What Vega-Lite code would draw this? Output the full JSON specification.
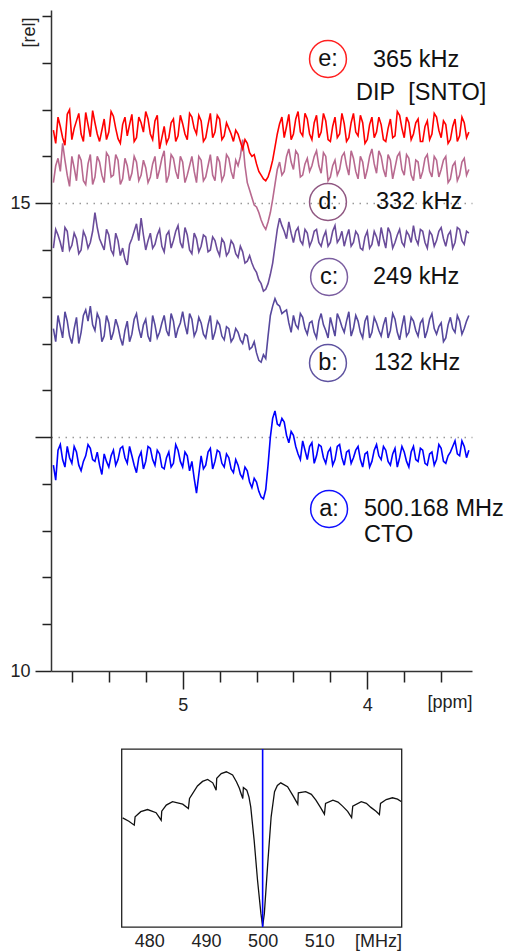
{
  "$schema": "https://vega.github.io/schema/vega-lite/v6.json",
  "padding": {"left": 9, "top": 10, "right": 0, "bottom": 0},
  "spacing": 78,
  "bounds": "flush",
  "center": true,
  "config": {
    "font": "Liberation Sans",
    "view": {"stroke": null},
    "axis": {"labelFont": "Liberation Sans", "titleFont": "Liberation Sans"}
  },
  "vconcat": [
    {
      "width": 421,
      "height": 661,
      "layer": [
        {
          "data": {"values": [
            {"x":5.7,"a":12.20,"b":13.66,"c":14.52,"d":15.22,"e":15.78},
            {"x":5.6875,"a":12.04,"b":13.52,"c":14.72,"d":15.40,"e":15.64},
            {"x":5.675,"a":12.36,"b":13.80,"c":14.66,"d":15.48,"e":15.92},
            {"x":5.6625,"a":12.42,"b":13.68,"c":14.58,"d":15.34,"e":15.82},
            {"x":5.65,"a":12.26,"b":13.56,"c":14.48,"d":15.64,"e":15.70},
            {"x":5.6375,"a":12.18,"b":13.84,"c":14.74,"d":15.46,"e":15.62},
            {"x":5.625,"a":12.40,"b":13.74,"c":14.70,"d":15.30,"e":15.95},
            {"x":5.6125,"a":12.28,"b":13.58,"c":14.50,"d":15.18,"e":16.00},
            {"x":5.6,"a":12.22,"b":13.50,"c":14.55,"d":15.50,"e":15.68},
            {"x":5.5875,"a":12.40,"b":13.66,"c":14.68,"d":15.38,"e":15.80},
            {"x":5.575,"a":12.34,"b":13.78,"c":14.62,"d":15.24,"e":15.88},
            {"x":5.5625,"a":12.20,"b":13.50,"c":14.46,"d":15.52,"e":15.96},
            {"x":5.55,"a":12.14,"b":13.62,"c":14.50,"d":15.46,"e":15.74},
            {"x":5.5375,"a":12.24,"b":13.80,"c":14.70,"d":15.24,"e":15.66},
            {"x":5.525,"a":12.30,"b":13.86,"c":14.64,"d":15.20,"e":15.97},
            {"x":5.5125,"a":12.42,"b":13.74,"c":14.52,"d":15.42,"e":15.84},
            {"x":5.5,"a":12.38,"b":13.90,"c":14.58,"d":15.52,"e":15.71},
            {"x":5.4875,"a":12.26,"b":13.70,"c":14.70,"d":15.20,"e":15.99},
            {"x":5.475,"a":12.24,"b":13.64,"c":14.90,"d":15.28,"e":15.86},
            {"x":5.4625,"a":12.34,"b":13.82,"c":14.74,"d":15.50,"e":15.74},
            {"x":5.45,"a":12.20,"b":13.76,"c":14.62,"d":15.44,"e":15.66},
            {"x":5.4375,"a":12.10,"b":13.52,"c":14.56,"d":15.30,"e":15.78},
            {"x":5.425,"a":12.32,"b":13.58,"c":14.50,"d":15.22,"e":15.90},
            {"x":5.4125,"a":12.24,"b":13.80,"c":14.72,"d":15.54,"e":15.68},
            {"x":5.4,"a":12.18,"b":13.72,"c":14.66,"d":15.50,"e":15.76},
            {"x":5.3875,"a":12.30,"b":13.54,"c":14.50,"d":15.28,"e":15.98},
            {"x":5.375,"a":12.36,"b":13.62,"c":14.45,"d":15.30,"e":15.93},
            {"x":5.3625,"a":12.20,"b":13.76,"c":14.68,"d":15.52,"e":15.80},
            {"x":5.35,"a":12.26,"b":13.68,"c":14.60,"d":15.46,"e":15.69},
            {"x":5.3375,"a":12.38,"b":13.56,"c":14.44,"d":15.20,"e":15.64},
            {"x":5.325,"a":12.40,"b":13.48,"c":14.52,"d":15.26,"e":15.84},
            {"x":5.3125,"a":12.28,"b":13.64,"c":14.40,"d":15.48,"e":15.92},
            {"x":5.3,"a":12.22,"b":13.74,"c":14.34,"d":15.40,"e":15.72},
            {"x":5.2875,"a":12.40,"b":13.52,"c":14.56,"d":15.24,"e":15.84},
            {"x":5.275,"a":12.30,"b":13.60,"c":14.62,"d":15.32,"e":15.95},
            {"x":5.2625,"a":12.20,"b":13.76,"c":14.70,"d":15.50,"e":15.66},
            {"x":5.25,"a":12.12,"b":13.82,"c":14.78,"d":15.44,"e":15.70},
            {"x":5.2375,"a":12.28,"b":13.66,"c":14.60,"d":15.24,"e":15.92},
            {"x":5.225,"a":12.34,"b":13.56,"c":14.84,"d":15.30,"e":15.86},
            {"x":5.2125,"a":12.16,"b":13.70,"c":14.66,"d":15.46,"e":15.76},
            {"x":5.2,"a":12.24,"b":13.76,"c":14.50,"d":15.38,"e":15.98},
            {"x":5.1875,"a":12.40,"b":13.58,"c":14.60,"d":15.22,"e":15.90},
            {"x":5.175,"a":12.38,"b":13.52,"c":14.68,"d":15.28,"e":15.74},
            {"x":5.1625,"a":12.26,"b":13.80,"c":14.52,"d":15.42,"e":15.68},
            {"x":5.15,"a":12.20,"b":13.70,"c":14.56,"d":15.50,"e":15.88},
            {"x":5.1375,"a":12.36,"b":13.56,"c":14.66,"d":15.26,"e":15.94},
            {"x":5.125,"a":12.32,"b":13.62,"c":14.72,"d":15.36,"e":15.58},
            {"x":5.1125,"a":12.18,"b":13.72,"c":14.54,"d":15.48,"e":15.70},
            {"x":5.1,"a":12.16,"b":13.80,"c":14.48,"d":15.56,"e":15.82},
            {"x":5.0875,"a":12.28,"b":13.64,"c":14.66,"d":15.22,"e":15.64},
            {"x":5.075,"a":12.34,"b":13.58,"c":14.70,"d":15.30,"e":15.70},
            {"x":5.0625,"a":12.18,"b":13.82,"c":14.52,"d":15.52,"e":15.86},
            {"x":5.05,"a":12.22,"b":13.74,"c":14.60,"d":15.48,"e":15.90},
            {"x":5.0375,"a":12.42,"b":13.56,"c":14.70,"d":15.34,"e":15.66},
            {"x":5.025,"a":12.36,"b":13.66,"c":14.76,"d":15.26,"e":15.72},
            {"x":5.0125,"a":12.24,"b":13.72,"c":14.58,"d":15.50,"e":15.94},
            {"x":5.0,"a":12.18,"b":13.84,"c":14.52,"d":15.44,"e":15.85},
            {"x":4.9875,"a":12.34,"b":13.70,"c":14.74,"d":15.22,"e":15.74},
            {"x":4.975,"a":12.30,"b":13.60,"c":14.66,"d":15.30,"e":15.68},
            {"x":4.9625,"a":12.14,"b":13.82,"c":14.50,"d":15.40,"e":15.96},
            {"x":4.95,"a":12.24,"b":13.76,"c":14.46,"d":15.50,"e":15.92},
            {"x":4.9375,"a":12.06,"b":13.58,"c":14.68,"d":15.34,"e":15.80},
            {"x":4.925,"a":11.90,"b":13.64,"c":14.62,"d":15.22,"e":15.74},
            {"x":4.9125,"a":12.10,"b":13.78,"c":14.48,"d":15.50,"e":15.94},
            {"x":4.9,"a":12.30,"b":13.72,"c":14.54,"d":15.46,"e":15.88},
            {"x":4.8875,"a":12.16,"b":13.60,"c":14.66,"d":15.24,"e":15.66},
            {"x":4.875,"a":12.20,"b":13.56,"c":14.64,"d":15.28,"e":15.70},
            {"x":4.8625,"a":12.34,"b":13.70,"c":14.48,"d":15.40,"e":15.84},
            {"x":4.85,"a":12.38,"b":13.80,"c":14.50,"d":15.52,"e":15.96},
            {"x":4.8375,"a":12.16,"b":13.54,"c":14.64,"d":15.30,"e":15.70},
            {"x":4.825,"a":12.24,"b":13.62,"c":14.60,"d":15.24,"e":15.76},
            {"x":4.8125,"a":12.36,"b":13.74,"c":14.50,"d":15.50,"e":15.94},
            {"x":4.8,"a":12.34,"b":13.70,"c":14.44,"d":15.44,"e":15.90},
            {"x":4.7875,"a":12.22,"b":13.58,"c":14.62,"d":15.24,"e":15.68},
            {"x":4.775,"a":12.18,"b":13.54,"c":14.58,"d":15.30,"e":15.72},
            {"x":4.7625,"a":12.32,"b":13.68,"c":14.44,"d":15.52,"e":15.86},
            {"x":4.75,"a":12.28,"b":13.66,"c":14.48,"d":15.48,"e":15.80},
            {"x":4.7375,"a":12.16,"b":13.52,"c":14.60,"d":15.34,"e":15.74},
            {"x":4.725,"a":12.12,"b":13.56,"c":14.56,"d":15.26,"e":15.66},
            {"x":4.7125,"a":12.26,"b":13.66,"c":14.46,"d":15.46,"e":15.78},
            {"x":4.7,"a":12.20,"b":13.62,"c":14.42,"d":15.40,"e":15.74},
            {"x":4.6875,"a":12.10,"b":13.54,"c":14.54,"d":15.50,"e":15.66},
            {"x":4.675,"a":12.06,"b":13.50,"c":14.48,"d":15.68,"e":15.58},
            {"x":4.6625,"a":12.18,"b":13.60,"c":14.36,"d":15.40,"e":15.68},
            {"x":4.65,"a":12.14,"b":13.58,"c":14.38,"d":15.22,"e":15.64},
            {"x":4.6375,"a":12.02,"b":13.44,"c":14.44,"d":15.14,"e":15.54},
            {"x":4.625,"a":11.96,"b":13.46,"c":14.36,"d":15.06,"e":15.50},
            {"x":4.6125,"a":12.06,"b":13.52,"c":14.30,"d":14.98,"e":15.52},
            {"x":4.6,"a":12.02,"b":13.40,"c":14.26,"d":14.96,"e":15.42},
            {"x":4.5875,"a":11.92,"b":13.32,"c":14.18,"d":14.90,"e":15.34},
            {"x":4.575,"a":11.86,"b":13.30,"c":14.14,"d":14.82,"e":15.30},
            {"x":4.5625,"a":11.84,"b":13.38,"c":14.06,"d":14.76,"e":15.26},
            {"x":4.55,"a":11.94,"b":13.34,"c":14.08,"d":14.72,"e":15.24},
            {"x":4.5375,"a":12.20,"b":13.58,"c":14.14,"d":14.80,"e":15.28},
            {"x":4.525,"a":12.50,"b":13.80,"c":14.24,"d":14.90,"e":15.36},
            {"x":4.5125,"a":12.70,"b":13.90,"c":14.36,"d":15.04,"e":15.46},
            {"x":4.5,"a":12.78,"b":13.98,"c":14.54,"d":15.20,"e":15.60},
            {"x":4.4875,"a":12.64,"b":13.92,"c":14.72,"d":15.36,"e":15.74},
            {"x":4.475,"a":12.62,"b":13.90,"c":14.84,"d":15.44,"e":15.85},
            {"x":4.4625,"a":12.70,"b":13.82,"c":14.76,"d":15.30,"e":15.92},
            {"x":4.45,"a":12.66,"b":13.84,"c":14.70,"d":15.34,"e":15.70},
            {"x":4.4375,"a":12.52,"b":13.86,"c":14.62,"d":15.50,"e":15.82},
            {"x":4.425,"a":12.44,"b":13.72,"c":14.80,"d":15.58,"e":15.95},
            {"x":4.4125,"a":12.56,"b":13.62,"c":14.68,"d":15.44,"e":15.68},
            {"x":4.4,"a":12.52,"b":13.80,"c":14.58,"d":15.36,"e":15.74},
            {"x":4.3875,"a":12.40,"b":13.70,"c":14.70,"d":15.56,"e":15.90},
            {"x":4.375,"a":12.32,"b":13.66,"c":14.74,"d":15.52,"e":15.98},
            {"x":4.3625,"a":12.26,"b":13.82,"c":14.60,"d":15.28,"e":15.76},
            {"x":4.35,"a":12.46,"b":13.78,"c":14.56,"d":15.30,"e":15.72},
            {"x":4.3375,"a":12.36,"b":13.66,"c":14.72,"d":15.42,"e":15.96},
            {"x":4.325,"a":12.26,"b":13.60,"c":14.68,"d":15.48,"e":15.90},
            {"x":4.3125,"a":12.40,"b":13.72,"c":14.54,"d":15.34,"e":15.74},
            {"x":4.3,"a":12.44,"b":13.74,"c":14.60,"d":15.40,"e":15.68},
            {"x":4.2875,"a":12.22,"b":13.62,"c":14.70,"d":15.50,"e":15.86},
            {"x":4.275,"a":12.30,"b":13.56,"c":14.72,"d":15.56,"e":15.94},
            {"x":4.2625,"a":12.42,"b":13.74,"c":14.58,"d":15.40,"e":15.70},
            {"x":4.25,"a":12.40,"b":13.82,"c":14.54,"d":15.32,"e":15.76},
            {"x":4.2375,"a":12.28,"b":13.70,"c":14.64,"d":15.54,"e":15.96},
            {"x":4.225,"a":12.22,"b":13.64,"c":14.70,"d":15.50,"e":15.88},
            {"x":4.2125,"a":12.34,"b":13.56,"c":14.54,"d":15.24,"e":15.68},
            {"x":4.2,"a":12.38,"b":13.78,"c":14.58,"d":15.28,"e":15.66},
            {"x":4.1875,"a":12.20,"b":13.68,"c":14.70,"d":15.40,"e":15.82},
            {"x":4.175,"a":12.26,"b":13.58,"c":14.76,"d":15.46,"e":15.92},
            {"x":4.1625,"a":12.40,"b":13.82,"c":14.58,"d":15.30,"e":15.70},
            {"x":4.15,"a":12.42,"b":13.76,"c":14.62,"d":15.36,"e":15.74},
            {"x":4.1375,"a":12.28,"b":13.68,"c":14.70,"d":15.50,"e":15.96},
            {"x":4.125,"a":12.20,"b":13.62,"c":14.54,"d":15.54,"e":15.85},
            {"x":4.1125,"a":12.34,"b":13.74,"c":14.64,"d":15.40,"e":15.66},
            {"x":4.1,"a":12.36,"b":13.84,"c":14.72,"d":15.30,"e":15.70},
            {"x":4.0875,"a":12.22,"b":13.58,"c":14.54,"d":15.56,"e":15.86},
            {"x":4.075,"a":12.28,"b":13.66,"c":14.58,"d":15.48,"e":15.96},
            {"x":4.0625,"a":12.36,"b":13.80,"c":14.70,"d":15.34,"e":15.76},
            {"x":4.05,"a":12.40,"b":13.74,"c":14.66,"d":15.26,"e":15.72},
            {"x":4.0375,"a":12.26,"b":13.62,"c":14.52,"d":15.50,"e":15.94},
            {"x":4.025,"a":12.18,"b":13.56,"c":14.50,"d":15.44,"e":15.86},
            {"x":4.0125,"a":12.32,"b":13.74,"c":14.64,"d":15.26,"e":15.64},
            {"x":4.0,"a":12.34,"b":13.80,"c":14.70,"d":15.36,"e":15.68},
            {"x":3.9875,"a":12.18,"b":13.56,"c":14.52,"d":15.50,"e":15.84},
            {"x":3.975,"a":12.24,"b":13.62,"c":14.56,"d":15.58,"e":15.92},
            {"x":3.9625,"a":12.36,"b":13.78,"c":14.70,"d":15.42,"e":15.70},
            {"x":3.95,"a":12.42,"b":13.72,"c":14.64,"d":15.32,"e":15.76},
            {"x":3.9375,"a":12.30,"b":13.64,"c":14.54,"d":15.56,"e":15.92},
            {"x":3.925,"a":12.26,"b":13.58,"c":14.74,"d":15.50,"e":15.84},
            {"x":3.9125,"a":12.40,"b":13.70,"c":14.62,"d":15.36,"e":15.68},
            {"x":3.9,"a":12.36,"b":13.78,"c":14.52,"d":15.28,"e":15.66},
            {"x":3.8875,"a":12.24,"b":13.56,"c":14.74,"d":15.52,"e":15.80},
            {"x":3.875,"a":12.20,"b":13.64,"c":14.68,"d":15.46,"e":15.90},
            {"x":3.8625,"a":12.32,"b":13.82,"c":14.52,"d":15.26,"e":15.70},
            {"x":3.85,"a":12.38,"b":13.76,"c":14.58,"d":15.38,"e":15.72},
            {"x":3.8375,"a":12.18,"b":13.62,"c":14.66,"d":15.50,"e":15.98},
            {"x":3.825,"a":12.28,"b":13.54,"c":14.72,"d":15.54,"e":15.94},
            {"x":3.8125,"a":12.40,"b":13.68,"c":14.58,"d":15.36,"e":15.80},
            {"x":3.8,"a":12.34,"b":13.80,"c":14.54,"d":15.30,"e":15.70},
            {"x":3.7875,"a":12.24,"b":13.58,"c":14.70,"d":15.52,"e":15.92},
            {"x":3.775,"a":12.18,"b":13.62,"c":14.66,"d":15.48,"e":15.86},
            {"x":3.7625,"a":12.34,"b":13.78,"c":14.58,"d":15.30,"e":15.68},
            {"x":3.75,"a":12.40,"b":13.74,"c":14.76,"d":15.24,"e":15.74},
            {"x":3.7375,"a":12.26,"b":13.64,"c":14.62,"d":15.46,"e":15.86},
            {"x":3.725,"a":12.24,"b":13.58,"c":14.56,"d":15.44,"e":15.90},
            {"x":3.7125,"a":12.38,"b":13.72,"c":14.72,"d":15.26,"e":15.66},
            {"x":3.7,"a":12.36,"b":13.76,"c":14.70,"d":15.34,"e":15.66},
            {"x":3.6875,"a":12.22,"b":13.56,"c":14.58,"d":15.48,"e":15.82},
            {"x":3.675,"a":12.20,"b":13.64,"c":14.52,"d":15.52,"e":15.88},
            {"x":3.6625,"a":12.32,"b":13.76,"c":14.70,"d":15.34,"e":15.68},
            {"x":3.65,"a":12.34,"b":13.82,"c":14.66,"d":15.28,"e":15.74},
            {"x":3.6375,"a":12.20,"b":13.66,"c":14.54,"d":15.50,"e":15.96},
            {"x":3.625,"a":12.26,"b":13.60,"c":14.60,"d":15.46,"e":15.92},
            {"x":3.6125,"a":12.42,"b":13.68,"c":14.70,"d":15.28,"e":15.78},
            {"x":3.6,"a":12.38,"b":13.72,"c":14.74,"d":15.36,"e":15.70},
            {"x":3.5875,"a":12.24,"b":13.52,"c":14.62,"d":15.46,"e":15.88},
            {"x":3.575,"a":12.22,"b":13.56,"c":14.54,"d":15.50,"e":15.84},
            {"x":3.5625,"a":12.30,"b":13.70,"c":14.66,"d":15.22,"e":15.64},
            {"x":3.55,"a":12.34,"b":13.78,"c":14.70,"d":15.26,"e":15.68},
            {"x":3.5375,"a":12.40,"b":13.66,"c":14.52,"d":15.40,"e":15.82},
            {"x":3.525,"a":12.46,"b":13.62,"c":14.58,"d":15.44,"e":15.90},
            {"x":3.5125,"a":12.32,"b":13.80,"c":14.74,"d":15.24,"e":15.66},
            {"x":3.5,"a":12.30,"b":13.74,"c":14.72,"d":15.30,"e":15.72},
            {"x":3.4875,"a":12.46,"b":13.60,"c":14.60,"d":15.44,"e":15.92},
            {"x":3.475,"a":12.40,"b":13.66,"c":14.56,"d":15.48,"e":15.86},
            {"x":3.4625,"a":12.28,"b":13.74,"c":14.70,"d":15.30,"e":15.70},
            {"x":3.45,"a":12.36,"b":13.80,"c":14.68,"d":15.36,"e":15.76}
          ]},
          "transform": [{"fold": ["a", "b", "c", "d", "e"], "as": ["s", "y"]}],
          "mark": {"type": "line", "strokeWidth": 1.6},
          "encoding": {
            "x": {
              "field": "x", "type": "quantitative",
              "scale": {"domain": [5.713, 3.433], "nice": false, "zero": false},
              "axis": {
                "values": [5.6, 5.4, 5.2, 5.0, 4.8, 4.6, 4.4, 4.2, 4.0, 3.8, 3.6],
                "labelExpr": "datum.value == 5 ? '5' : datum.value == 4 ? '4' : ''",
                "tickSize": {"condition": {"test": "datum.value == 5 || datum.value == 4", "value": 18}, "value": 11},
                "tickColor": "#222", "tickWidth": 1.5,
                "domainColor": "#333", "domainWidth": 1.5,
                "labelFontSize": 18, "labelColor": "#222", "labelPadding": 7,
                "grid": false,
                "title": "[ppm]", "titleFontSize": 18, "titleFontWeight": "normal", "titleColor": "#222",
                "titleAnchor": "end", "titleAlign": "right", "titleBaseline": "middle",
                "titleX": 421, "titleY": 31
              }
            },
            "y": {
              "field": "y", "type": "quantitative",
              "scale": {"domain": [10, 17.065], "nice": false, "zero": false},
              "axis": {
                "values": [10, 10.5, 11, 11.5, 12, 12.5, 13, 13.5, 14, 14.5, 15, 15.5, 16, 16.5, 17],
                "labelExpr": "datum.value == 10 ? '10' : datum.value == 15 ? '15' : ''",
                "tickSize": {"condition": {"test": "datum.value == 10 || datum.value == 12.5 || datum.value == 15", "value": 16}, "value": 9},
                "tickColor": "#222", "tickWidth": 1.5,
                "domainColor": "#333", "domainWidth": 1.5,
                "grid": true, "gridColor": "#999", "gridDash": [1.5, 5.5], "gridWidth": 1.3,
                "gridOpacity": {"condition": {"test": "datum.value == 12.5 || datum.value == 15", "value": 1}, "value": 0},
                "labelFontSize": 18, "labelColor": "#222", "labelPadding": 5,
                "title": "[rel]", "titleFontSize": 18, "titleFontWeight": "normal", "titleColor": "#222",
                "titleAngle": 270, "titleAlign": "right", "titleBaseline": "middle",
                "titleX": -22, "titleY": 7
              }
            },
            "color": {
              "field": "s", "type": "nominal",
              "scale": {"domain": ["a", "b", "c", "d", "e"], "range": ["#0000ff", "#56489d", "#6a4c9a", "#b8698f", "#ff0000"]},
              "legend": null
            }
          }
        },
        {
          "data": {"values": [
            {"s": "e", "x": 4.213, "y": 16.541, "t": "e:"},
            {"s": "d", "x": 4.213, "y": 15.013, "t": "d:"},
            {"s": "c", "x": 4.207, "y": 14.211, "t": "c:"},
            {"s": "b", "x": 4.213, "y": 13.292, "t": "b:"},
            {"s": "a", "x": 4.207, "y": 11.732, "t": "a:"}
          ]},
          "mark": {"type": "point", "shape": "circle", "filled": false, "size": 1360, "strokeWidth": 1.5, "opacity": 1},
          "encoding": {
            "x": {"field": "x", "type": "quantitative"},
            "y": {"field": "y", "type": "quantitative"},
            "stroke": {
              "field": "s", "type": "nominal",
              "scale": {"domain": ["a", "b", "c", "d", "e"], "range": ["#1010ff", "#5f53a0", "#7b5ea0", "#905882", "#ff2020"]},
              "legend": null
            }
          }
        },
        {
          "data": {"values": [
            {"x": 4.213, "y": 16.541, "t": "e:"},
            {"x": 4.213, "y": 15.013, "t": "d:"},
            {"x": 4.207, "y": 14.211, "t": "c:"},
            {"x": 4.213, "y": 13.292, "t": "b:"},
            {"x": 4.207, "y": 11.732, "t": "a:"}
          ]},
          "mark": {"type": "text", "fontSize": 23.5, "align": "center", "baseline": "middle", "color": "#111", "font": "Liberation Sans"},
          "encoding": {
            "x": {"field": "x", "type": "quantitative"},
            "y": {"field": "y", "type": "quantitative"},
            "text": {"field": "t"}
          }
        },
        {
          "data": {"values": [
            {"x": 3.969, "y": 16.531, "t": "365 kHz"},
            {"x": 4.061, "y": 16.178, "t": "DIP\u00a0\u00a0[SNTO]"},
            {"x": 3.953, "y": 15.013, "t": "332 kHz"},
            {"x": 3.969, "y": 14.211, "t": "249 kHz"},
            {"x": 3.964, "y": 13.292, "t": "132 kHz"},
            {"x": 4.018, "y": 11.732, "t": "500.168 MHz"},
            {"x": 4.018, "y": 11.454, "t": "CTO"}
          ]},
          "mark": {"type": "text", "fontSize": 23.5, "align": "left", "baseline": "middle", "color": "#111", "font": "Liberation Sans"},
          "encoding": {
            "x": {"field": "x", "type": "quantitative"},
            "y": {"field": "y", "type": "quantitative"},
            "text": {"field": "t"}
          }
        }
      ]
    },
    {
      "width": 280,
      "height": 178,
      "view": {"stroke": "#222", "strokeWidth": 1.3},
      "layer": [
        {
          "data": {"values": [
            {"f":475.3,"v":0.613},{"f":476.4,"v":0.594},{"f":477.35,"v":0.572},{"f":477.5,"v":0.619},
            {"f":478.5,"v":0.648},{"f":479.7,"v":0.660},{"f":481.2,"v":0.642},{"f":482.1,"v":0.600},
            {"f":482.2,"v":0.651},{"f":483.0,"v":0.685},{"f":484.1,"v":0.704},{"f":485.9,"v":0.690},{"f":486.9,"v":0.666},
            {"f":487.1,"v":0.722},{"f":488.5,"v":0.792},{"f":489.4,"v":0.818},{"f":490.3,"v":0.829},{"f":491.2,"v":0.810},{"f":491.8,"v":0.769},
            {"f":491.9,"v":0.835},{"f":492.7,"v":0.862},{"f":493.6,"v":0.872},{"f":494.7,"v":0.854},{"f":495.4,"v":0.815},{"f":495.9,"v":0.779},{"f":496.5,"v":0.722},
            {"f":496.6,"v":0.784},{"f":497.2,"v":0.769},{"f":497.6,"v":0.730},{"f":497.9,"v":0.675},{"f":498.5,"v":0.488},{"f":499.1,"v":0.263},{"f":499.7,"v":0.075},
            {"f":500.0,"v":0.004},{"f":500.3,"v":0.075},{"f":500.9,"v":0.356},{"f":501.5,"v":0.619},{"f":502.1,"v":0.760},{"f":502.6,"v":0.795},
            {"f":503.2,"v":0.810},{"f":504.4,"v":0.788},{"f":505.4,"v":0.735},{"f":506.2,"v":0.690},
            {"f":506.3,"v":0.754},{"f":507.6,"v":0.760},{"f":508.6,"v":0.745},{"f":509.4,"v":0.713},{"f":510.2,"v":0.672},{"f":510.9,"v":0.634},
            {"f":511.1,"v":0.694},{"f":512.4,"v":0.713},{"f":513.3,"v":0.702},{"f":514.1,"v":0.679},{"f":515.0,"v":0.650},{"f":515.7,"v":0.615},
            {"f":515.9,"v":0.679},{"f":517.4,"v":0.704},{"f":518.3,"v":0.695},{"f":519.1,"v":0.672},{"f":520.0,"v":0.650},{"f":520.6,"v":0.632},
            {"f":520.8,"v":0.694},{"f":521.8,"v":0.716},{"f":522.9,"v":0.726},{"f":523.8,"v":0.718},{"f":524.5,"v":0.704}
          ]},
          "mark": {"type": "line", "color": "#111", "strokeWidth": 1.3, "clip": true},
          "encoding": {
            "x": {
              "field": "f", "type": "quantitative",
              "scale": {"domain": [475.1, 524.5], "nice": false, "zero": false},
              "axis": {
                "values": [480, 490, 500, 510],
                "ticks": false, "tickSize": 0, "domain": false, "grid": false,
                "labelFontSize": 18, "labelColor": "#222", "labelPadding": 5,
                "title": "[MHz]", "titleFontSize": 18, "titleFontWeight": "normal", "titleColor": "#222",
                "titleAnchor": "end", "titleAlign": "right", "titleBaseline": "middle",
                "titleX": 280, "titleY": 14
              }
            },
            "y": {
              "field": "v", "type": "quantitative",
              "scale": {"domain": [0, 1], "nice": false, "zero": false},
              "axis": null
            }
          }
        },
        {
          "data": {"values": [{"f": 500}]},
          "mark": {"type": "rule", "color": "#0000ff", "strokeWidth": 1.6},
          "encoding": {
            "x": {"field": "f", "type": "quantitative"}
          }
        }
      ]
    }
  ]
}
